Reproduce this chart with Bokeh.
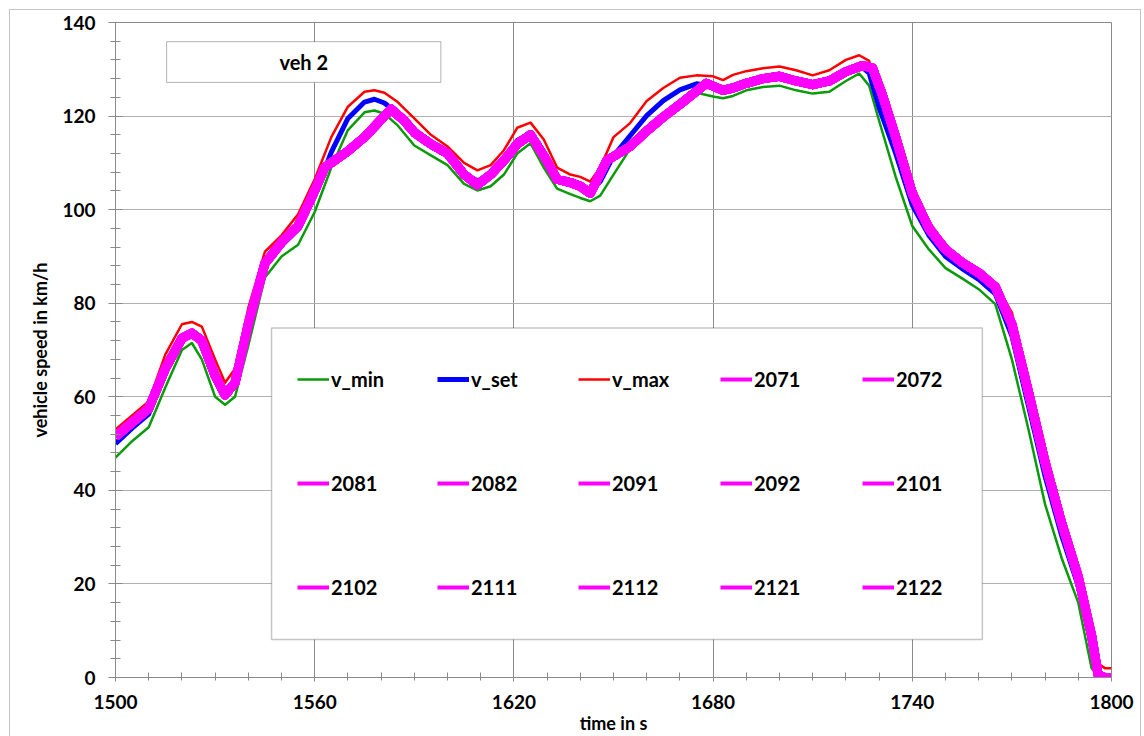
from bokeh.plotting import figure
from bokeh.models import (Range1d, SingleIntervalTicker, BoxAnnotation, Label,
                          Legend, LegendItem)
from bokeh.embed import file_html
from bokeh.resources import INLINE

# ---------------- data ----------------
time = [1500, 1505, 1510, 1515, 1520, 1523, 1526, 1530, 1533, 1536,
        1540, 1545, 1550, 1555, 1560, 1565, 1570, 1575, 1578, 1581,
        1585, 1590, 1595, 1600, 1605, 1609, 1613, 1617, 1621, 1625,
        1629, 1633, 1637, 1640, 1643, 1646, 1650, 1655, 1660, 1665,
        1670, 1675, 1680, 1683, 1686, 1690, 1695, 1700, 1705, 1710,
        1715, 1720, 1724, 1727, 1730, 1735, 1740, 1745, 1750, 1755,
        1760, 1765, 1770, 1775, 1780, 1785, 1790, 1794, 1796, 1798, 1800]

v_min = [47, 50.5, 53.5, 62, 70, 71.5, 68, 60, 58.3, 60,
         71, 85.5, 90, 92.5, 99.5, 109, 117, 120.8, 121.2, 120.5,
         118, 113.7, 111.6, 109.5, 105.5, 104.1, 105, 107.5, 112, 114.2,
         109, 104.5, 103.3, 102.5, 101.8, 103, 107.5, 113, 117, 120.5,
         123, 125, 124.2, 123.8, 124.3, 125.5, 126.2, 126.5, 125.5, 124.8,
         125.2, 127.5, 129.1, 126.5, 119, 107, 96.5, 91.5, 87.5, 85.3,
         83, 79.8, 68, 53, 37, 25.5, 16, 2, 0, 0, 0]

v_set = [50, 53.3, 56.3, 65.5, 72.8, 73.8, 71.5, 64, 60.6, 63,
         75, 88.3, 92.3, 95.8, 103, 112.3, 119.5, 123, 123.6, 122.8,
         120.5, 116.6, 113.8, 111.5, 107.7, 106.2, 107.2, 110.1, 114.8, 116.4,
         112, 106.8, 105.4, 104.8, 103.9, 106, 111.5, 115.8, 120.1, 123.3,
         125.6, 126.9, 126.4, 125.8, 126.5, 127.5, 128.2, 128.5, 127.6, 126.8,
         127.5, 129.8, 131, 129.2, 121.8, 112, 101, 94.5, 90, 87.4,
         85.1, 82, 73, 58, 43, 30.3, 19.5, 7, 1.5, 0, 0]

v_max = [53, 56, 59, 69, 75.5, 76, 75, 68, 63, 66,
         79, 91, 94.5, 99, 106.5, 115.5, 122, 125.2, 125.5, 125,
         123, 119.5, 116, 113.5, 110, 108.4, 109.5, 112.7, 117.5, 118.6,
         115, 109, 107.5, 107, 106, 109, 115.5, 118.5, 123.2, 126,
         128.2, 128.7, 128.5, 127.7, 128.8, 129.6, 130.2, 130.6, 129.8, 128.7,
         129.8, 132, 133, 131.8, 124.5, 117, 105.5, 97.5, 92.5, 89.5,
         87.2, 84.2, 78, 63, 49, 35, 23, 12, 3, 2, 2]

time_test = [1500, 1505, 1510, 1515, 1520, 1523, 1526, 1530, 1533, 1536,
             1540, 1545, 1550, 1555, 1560, 1563, 1570, 1575, 1579, 1583,
             1587, 1590, 1595, 1600, 1605, 1609, 1613, 1617, 1621, 1625,
             1629, 1633, 1637, 1640, 1643, 1648, 1655, 1660, 1665, 1670,
             1675, 1678, 1683, 1686, 1690, 1695, 1700, 1705, 1710, 1715,
             1720, 1725, 1728, 1731, 1735, 1740, 1745, 1750, 1755, 1760,
             1765, 1770, 1775, 1780, 1785, 1790, 1794, 1796, 1798, 1800]

v_test = [51.5, 54.5, 57.5, 66, 72.5, 73.6, 72, 64.5, 60.4, 63,
          75.5, 88.5, 93, 96.5, 104, 109, 112.5, 115.5, 118.5, 121.5,
          119, 116.5, 114, 112, 107.5, 105.3, 107.5, 110.5, 114, 116,
          111.5, 106.5, 105.8, 105, 103.5, 110.5, 113.5, 116.8, 119.8, 122.5,
          125.3, 127, 125.5, 126, 127, 128, 128.5, 127.5, 126.7, 127.5,
          129.5, 130.8, 130.3, 124.5, 115.5, 103.5, 96, 91.5, 88.7, 86.5,
          83.5, 75.5, 61, 46, 33, 21.5, 9, 0.5, 0, 0]

runs = ["2071", "2072", "2081", "2082", "2091", "2092", "2101", "2102",
        "2111", "2112", "2121", "2122"]

title_text = "veh 2"
x_label = "time in s"
y_label = "vehicle speed in km/h"

# ---------------- figure ----------------
FONT = "Lato"
p = figure(width=1144, height=736, output_backend="svg", toolbar_location=None,
           x_range=Range1d(1500, 1800), y_range=Range1d(0, 140),
           min_border_left=115, min_border_right=33, min_border_top=22,
           min_border_bottom=58)
p.background_fill_color = "white"
p.border_fill_color = "white"
p.outline_line_color = "#8a8a8a"
p.outline_line_width = 1

p.xaxis.ticker = SingleIntervalTicker(interval=60, num_minor_ticks=6)
p.yaxis.ticker = SingleIntervalTicker(interval=20, num_minor_ticks=5)

for ax in (p.xaxis[0], p.yaxis[0]):
    ax.axis_line_color = "#8a8a8a"
    ax.major_tick_line_color = "#8a8a8a"
    ax.minor_tick_line_color = "#8a8a8a"
    ax.major_label_text_font = FONT
    ax.major_label_text_font_style = "bold"
    ax.major_label_text_font_size = "19px"
    ax.major_label_text_color = "black"
    ax.axis_label_text_font = FONT
    ax.axis_label_text_font_style = "bold"
    ax.axis_label_text_font_size = "18px"
    ax.axis_label_text_color = "black"

p.xaxis.major_tick_in = 4
p.xaxis.major_tick_out = 4
p.xaxis.minor_tick_in = 5
p.xaxis.minor_tick_out = 3
p.xaxis.major_label_standoff = 13
p.xaxis.axis_label = x_label
p.xaxis.axis_label_standoff = 0

p.yaxis.major_tick_in = 7
p.yaxis.major_tick_out = 7
p.yaxis.minor_tick_in = 5
p.yaxis.minor_tick_out = 5
p.yaxis.major_label_standoff = 13
p.yaxis.axis_label = y_label
p.yaxis.axis_label_standoff = 8

p.xgrid.grid_line_color = "#8a8a8a"
p.ygrid.grid_line_color = "#b0b0b0"

# ---------------- lines ----------------
rend = {}
rend["v_min"] = p.line(time, v_min, line_color="#0a9a0a", line_width=2.5,
                       line_join="round")
rend["v_set"] = p.line(time, v_set, line_color="#0000ff", line_width=5,
                       line_join="round")
rend["v_max"] = p.line(time, v_max, line_color="#ff0000", line_width=2.5,
                       line_join="round")
for r in runs:
    p.line(time_test, v_test, line_color="#ff00ff", line_width=9,
           line_join="round")
    rend[r] = p.line(time_test, v_test, line_color="#ff00ff", line_width=4,
                     visible=False)

# ---------------- title box ----------------
p.add_layout(BoxAnnotation(left=1515.4, right=1598.0, top=135.9, bottom=127.2,
                           fill_color="white", fill_alpha=1.0,
                           line_color="black", line_width=1))
p.add_layout(Label(x=1556.7, y=131.5, text=title_text, text_align="center",
                   text_baseline="middle", text_font=FONT,
                   text_font_style="bold", text_font_size="20px",
                   text_color="black"))

# ---------------- legend ----------------
p.add_layout(BoxAnnotation(left=1547.0, right=1761.1, top=74.7, bottom=8.1,
                           fill_color="white", fill_alpha=1.0,
                           line_color="#404040", line_width=1.5))
labels = ["v_min", "v_set", "v_max"] + runs
col_x = [182, 322, 463, 605, 747]
for c in range(5):
    items = [LegendItem(label=labels[c + 5 * k], renderers=[rend[labels[c + 5 * k]]])
             for k in range(3)]
    lg = Legend(items=items, location=(col_x[c], 78), orientation="vertical",
                padding=0, margin=0, spacing=80, glyph_width=32, glyph_height=24,
                label_height=24, label_standoff=2,
                border_line_alpha=0, background_fill_alpha=0,
                label_text_font=FONT, label_text_font_style="bold",
                label_text_font_size="20px", label_text_color="black",
                inactive_fill_alpha=0)
    p.add_layout(lg, "center")

html = file_html(p, INLINE)
# light outer chart-area border, as in the spreadsheet chart
html = html.replace(
    "</head>",
    "<style>body::after{content:'';position:fixed;left:9px;top:9px;"
    "width:1130px;height:760px;border:1px solid #c4c4c4;pointer-events:none;"
    "z-index:10;}</style></head>", 1)
open("out.html", "w").write(html)
